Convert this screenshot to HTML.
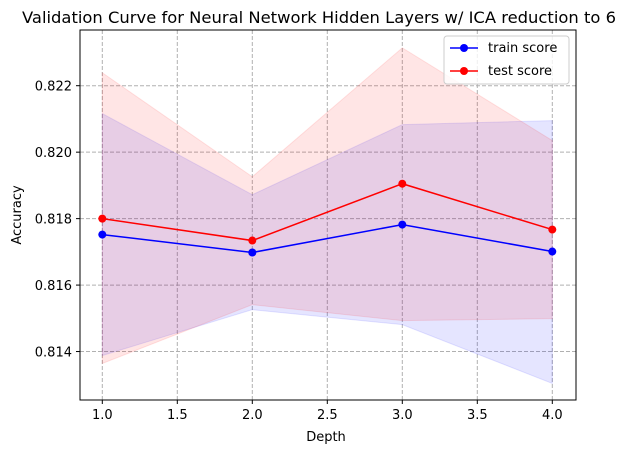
<!DOCTYPE html>
<html><head><meta charset="utf-8"><style>
body{margin:0;background:#fff;}
svg text{font-family:"DejaVu Sans","Liberation Sans",sans-serif;fill:#000;}
</style></head><body>
<svg id="chart" width="640" height="453" xmlns="http://www.w3.org/2000/svg">
<rect width="640" height="453" fill="#fff"/>
<text x="319" y="23" font-size="15.6" text-anchor="middle" textLength="594" lengthAdjust="spacingAndGlyphs">Validation Curve for Neural Network Hidden Layers w/ ICA reduction to 6</text>
<g id="grid"></g>
<g id="bands"></g>
<g id="lines"></g>
<rect x="80" y="30" width="496" height="370" fill="none" stroke="#000" stroke-width="1"/>
<g id="ticks"></g>
<text x="326" y="441" font-size="13" text-anchor="middle">Depth</text>
<text transform="translate(21,215) rotate(-90)" font-size="13" text-anchor="middle">Accuracy</text>
<g>
<rect x="444" y="36" width="125" height="48" rx="3" fill="#fff" fill-opacity="0.8" stroke="#ccc"/>
<line x1="450" y1="48" x2="478" y2="48" stroke="#0000ff" stroke-width="1.5"/><circle cx="464" cy="48" r="4" fill="#0000ff"/>
<text x="488" y="52" font-size="13">train score</text>
<line x1="450" y1="71" x2="478" y2="71" stroke="#ff0000" stroke-width="1.5"/><circle cx="464" cy="71" r="4" fill="#ff0000"/>
<text x="488" y="75" font-size="13">test score</text>
</g>
</svg>
<script>
const depths=[1,2,3,4];
const trainMean=[0.81752,0.81698,0.81782,0.81701];
const trainUpper=[0.82116,0.81872,0.82083,0.82095];
const trainLower=[0.81388,0.81526,0.81481,0.81304];
const testMean=[0.81800,0.81734,0.81905,0.81767];
const testUpper=[0.82239,0.81926,0.82314,0.82035];
const testLower=[0.81364,0.81541,0.81493,0.81499];
const xTicks=[1.0,1.5,2.0,2.5,3.0,3.5,4.0];
const yTicks=[0.814,0.816,0.818,0.820,0.822];
const NS="http://www.w3.org/2000/svg";
function sx(v){return 102.3+(v-1)*150;}
function sy(v){return 85.7-(v-0.822)*33230;}
function mk(tag,attrs,parent){const e=document.createElementNS(NS,tag);for(const k in attrs)e.setAttribute(k,attrs[k]);document.getElementById(parent).appendChild(e);return e;}
xTicks.forEach(t=>{
 let g=mk('line',{x1:sx(t),x2:sx(t),y1:30,y2:400,stroke:'#b0b0b0','stroke-dasharray':'4,2','stroke-width':1},'grid');
 
 
 mk('line',{x1:sx(t),x2:sx(t),y1:400,y2:404,stroke:'#000'},'ticks');
 let tx=mk('text',{x:sx(t),y:419,'font-size':13,'text-anchor':'middle'},'ticks');tx.textContent=t.toFixed(1);
 
 
});
yTicks.forEach(t=>{
 let g=mk('line',{x1:80,x2:576,y1:sy(t),y2:sy(t),stroke:'#b0b0b0','stroke-dasharray':'4,2','stroke-width':1},'grid');
 
 
 mk('line',{x1:76,x2:80,y1:sy(t),y2:sy(t),stroke:'#000'},'ticks');
 let tx=mk('text',{x:72,y:sy(t)+5,'font-size':13,'text-anchor':'end'},'ticks');tx.textContent=t.toFixed(3);
 
 
});
function band(up,lo,color,name){
 let pts=depths.map((d,i)=>sx(d)+','+sy(up[i]));
 for(let i=depths.length-1;i>=0;i--)pts.push(sx(depths[i])+','+sy(lo[i]));
 let p=mk('polygon',{points:pts.join(' '),fill:color,'fill-opacity':0.1,stroke:color,'stroke-opacity':0.1},'bands');
 
 
}
band(trainUpper,trainLower,'#0000ff','train-score-band');
band(testUpper,testLower,'#ff0000','test-score-band');
function series(vals,color,name){
 let l=mk('polyline',{points:depths.map((d,i)=>sx(d)+','+sy(vals[i])).join(' '),fill:'none',stroke:color,'stroke-width':1.5},'lines');
 
 
 depths.forEach((d,i)=>{
  let c=mk('circle',{cx:sx(d),cy:sy(vals[i]),r:4,fill:color},'lines');
  
  
 });
}
series(trainMean,'#0000ff','train-score');
series(testMean,'#ff0000','test-score');
</script>
</body></html>
